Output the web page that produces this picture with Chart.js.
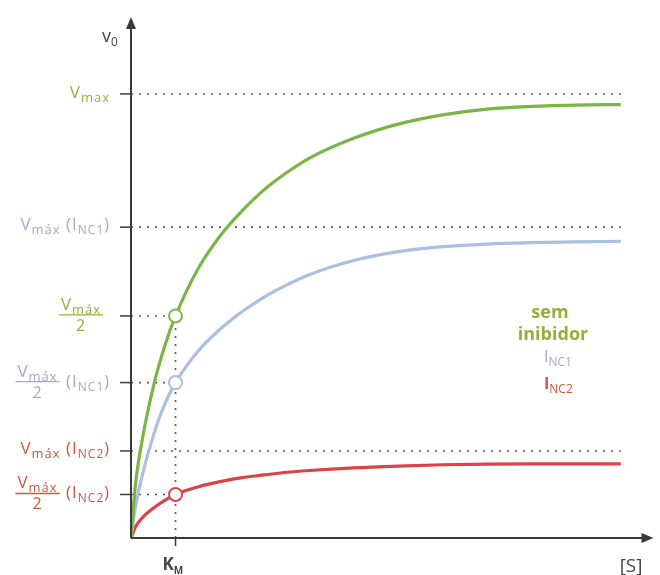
<!DOCTYPE html>
<html>
<head>
<meta charset="utf-8">
<script src="https://cdn.jsdelivr.net/npm/chart.js@4/dist/chart.umd.min.js"></script>
<style>
  html, body { margin: 0; padding: 0; background: #fff; }
  canvas { display: block; }
</style>
</head>
<body>
<canvas id="grafico" width="660" height="575"></canvas>
<script>
// [S] em unidades de K_M, v0 em unidades de Vmax
const km = 1;
const vmax = 1.0;
const vmaxNC1 = 0.70;
const vmaxNC2 = 0.196;

const concentracaoS = [0, 0.1, 0.25, 0.5, 0.75, 1, 1.5, 2, 2.5, 3, 3.5, 4, 5, 6, 7, 8, 9, 10, 11];
const semInibidorV = [0, 0.12, 0.22, 0.34, 0.43, 0.50, 0.605, 0.68, 0.737, 0.785, 0.823, 0.855, 0.90, 0.932, 0.953, 0.966, 0.972, 0.975, 0.976];
const nc1V = [0, 0.07, 0.14, 0.23, 0.30, 0.35, 0.42, 0.47, 0.51, 0.543, 0.57, 0.593, 0.625, 0.645, 0.656, 0.662, 0.665, 0.667, 0.668];
const nc2V = [0, 0.025, 0.045, 0.067, 0.084, 0.098, 0.115, 0.127, 0.136, 0.142, 0.148, 0.152, 0.158, 0.162, 0.165, 0.1665, 0.167, 0.167, 0.167];

const sMax = 11.69;
const vTopo = 1.171;

const verde = "#7bb547", verdeTexto = "#9aac3a";
const azul = "#a9bfe3", azulTexto = "#a3a9cc";
const vermelho = "#da4448", vermelhoTexto = "#c65a3f";
const pontilhado = "#5a5a5a";

const fonte = "'Open Sans', Lato, sans-serif";

function pontos(xs, ys) {
  return xs.map((x, i) => ({ x, y: ys[i] }));
}

const sFim = concentracaoS[concentracaoS.length - 1];

function linhaGuia(data) {
  return {
    data,
    borderColor: pontilhado,
    borderWidth: 1.6,
    borderDash: [2, 6],
    pointRadius: 0,
    tension: 0,
  };
}

function curva(data, cor) {
  return {
    data,
    borderColor: cor,
    borderWidth: 3.2,
    pointRadius: 0,
    cubicInterpolationMode: "monotone",
  };
}

function larguraTexto(ctx, partes) {
  let largura = 0;
  partes.forEach((p) => {
    ctx.font = `${p.peso || "normal"} ${p.tam}px ${fonte}`;
    p.w = ctx.measureText(p.t).width;
    largura += p.w;
  });
  return largura;
}

// texto com subscritos, alinhado à direita, ao centro ou à esquerda
function textoComposto(ctx, partes, x, y, cor, alinhar) {
  const largura = larguraTexto(ctx, partes);
  let cx = alinhar === "direita" ? x - largura : alinhar === "centro" ? x - largura / 2 : x;
  ctx.fillStyle = cor;
  ctx.textAlign = "left";
  ctx.textBaseline = "alphabetic";
  partes.forEach((p) => {
    ctx.font = `${p.peso || "normal"} ${p.tam}px ${fonte}`;
    ctx.fillText(p.t, cx, y + (p.sub ? 4 : 0));
    cx += p.w;
  });
  return largura;
}

const vMax = (acento) => [{ t: "V", tam: 17 }, { t: acento ? "máx" : "max", tam: 13, sub: true }];
const inib = (n) => [{ t: " (I", tam: 17 }, { t: "NC" + n, tam: 12, sub: true }, { t: ")", tam: 16 }];

function fracao(ctx, cx, y, cor) {
  // numerador Vmáx, traço e denominador 2
  const w = textoComposto(ctx, vMax(true), cx, y - 6, cor, "centro");
  ctx.strokeStyle = cor;
  ctx.lineWidth = 1.3;
  ctx.beginPath();
  ctx.moveTo(cx - w / 2 - 2, y - 1);
  ctx.lineTo(cx + w / 2 + 2, y - 1);
  ctx.stroke();
  textoComposto(ctx, [{ t: "2", tam: 16 }], cx, y + 15, cor, "centro");
  return w;
}

// fração Vmáx/2 seguida de (I_NCn), encostada à direita
function fracaoInibidor(ctx, direita, y, n, cor) {
  const w = textoComposto(ctx, inib(n), direita, y + 4, cor, "direita");
  const wNum = larguraTexto(ctx, vMax(true));
  fracao(ctx, direita - w - 3 - wNum / 2, y, cor);
}

const eixos = {
  id: "eixos",
  afterDraw(chart) {
    const { ctx } = chart;
    const xs = chart.scales.x, ys = chart.scales.y;
    const x0 = xs.getPixelForValue(0), y0 = ys.getPixelForValue(0);
    ctx.save();
    ctx.strokeStyle = "#3a3a3a";
    ctx.fillStyle = "#3a3a3a";
    ctx.lineWidth = 2;

    // eixo v0 com seta
    ctx.beginPath();
    ctx.moveTo(x0, y0);
    ctx.lineTo(x0, ys.top + 8);
    ctx.stroke();
    ctx.beginPath();
    ctx.moveTo(x0, ys.top - 1);
    ctx.lineTo(x0 - 5, ys.top + 11);
    ctx.lineTo(x0 + 5, ys.top + 11);
    ctx.closePath();
    ctx.fill();

    // eixo [S] com seta
    ctx.beginPath();
    ctx.moveTo(x0, y0);
    ctx.lineTo(xs.right - 6, y0);
    ctx.stroke();
    ctx.beginPath();
    ctx.moveTo(xs.right + 2, y0);
    ctx.lineTo(xs.right - 10, y0 - 5);
    ctx.lineTo(xs.right - 10, y0 + 5);
    ctx.closePath();
    ctx.fill();

    // marcas nos eixos
    ctx.lineWidth = 1.5;
    const marcasV = [vmax, vmaxNC1, vmax / 2, vmaxNC1 / 2, vmaxNC2, vmaxNC2 / 2];
    marcasV.forEach((v) => {
      const py = ys.getPixelForValue(v);
      ctx.beginPath();
      ctx.moveTo(x0 - 11, py);
      ctx.lineTo(x0, py);
      ctx.stroke();
    });
    const pk = xs.getPixelForValue(km);
    ctx.beginPath();
    ctx.moveTo(pk, y0);
    ctx.lineTo(pk, y0 + 8);
    ctx.stroke();

    // títulos dos eixos
    textoComposto(ctx, [{ t: "v", tam: 18 }, { t: "0", tam: 12, sub: true }], x0 - 29, ys.top + 24, "#444", "esquerda");
    textoComposto(ctx, [{ t: "[S]", tam: 19 }], xs.right - 9, y0 + 34, "#444", "direita");
    textoComposto(ctx, [{ t: "K", tam: 17, peso: "bold" }, { t: "M", tam: 10, sub: true, peso: "bold" }], pk - 13, y0 + 32, "#444", "esquerda");

    // rótulos do eixo v0, um pouco espaçados
    ctx.letterSpacing = "1px";
    const direita = x0 - 21;
    let py = ys.getPixelForValue(vmax);
    textoComposto(ctx, vMax(false), direita, py + 4, verdeTexto, "direita");

    py = ys.getPixelForValue(vmaxNC1);
    textoComposto(ctx, vMax(true).concat(inib(1)), direita, py + 3, azulTexto, "direita");

    py = ys.getPixelForValue(vmax / 2);
    fracao(ctx, direita - 29, py, verdeTexto);

    fracaoInibidor(ctx, direita, ys.getPixelForValue(vmaxNC1 / 2), 1, azulTexto);

    py = ys.getPixelForValue(vmaxNC2);
    textoComposto(ctx, vMax(true).concat(inib(2)), direita, py + 3, vermelhoTexto, "direita");

    fracaoInibidor(ctx, direita, ys.getPixelForValue(vmaxNC2 / 2), 2, vermelhoTexto);
    ctx.letterSpacing = "0px";

    // legenda
    textoComposto(ctx, [{ t: "sem", tam: 18, peso: "bold" }], 550, 318, verdeTexto, "centro");
    textoComposto(ctx, [{ t: "inibidor", tam: 18, peso: "bold" }], 553, 340, verdeTexto, "centro");
    textoComposto(ctx, [{ t: "I", tam: 16 }, { t: "NC1", tam: 12, sub: true }], 544, 362, azulTexto, "esquerda");
    textoComposto(ctx, [{ t: "I", tam: 16, peso: "bold" }, { t: "NC2", tam: 12, sub: true }], 544, 389, vermelhoTexto, "esquerda");

    ctx.restore();
  },
};

const ctx = document.getElementById("grafico").getContext("2d");
new Chart(ctx, {
  type: "line",
  data: {
    datasets: [
      {
        data: [
          { x: km, y: vmax / 2 },
          { x: km, y: vmaxNC1 / 2 },
          { x: km, y: vmaxNC2 / 2 },
        ],
        showLine: false,
        pointRadius: 6.5,
        pointBorderWidth: 2,
        pointBackgroundColor: "#fff",
        pointBorderColor: [verde, azul, vermelho],
      },
      curva(pontos(concentracaoS, semInibidorV), verde),
      curva(pontos(concentracaoS, nc1V), azul),
      curva(pontos(concentracaoS, nc2V), vermelho),
      linhaGuia([{ x: 0, y: vmax }, { x: sFim, y: vmax }]),
      linhaGuia([{ x: 0, y: vmaxNC1 }, { x: sFim, y: vmaxNC1 }]),
      linhaGuia([{ x: 0, y: vmaxNC2 }, { x: sFim, y: vmaxNC2 }]),
      linhaGuia([{ x: 0, y: vmax / 2 }, { x: km, y: vmax / 2 }]),
      linhaGuia([{ x: 0, y: vmaxNC1 / 2 }, { x: km, y: vmaxNC1 / 2 }]),
      linhaGuia([{ x: 0, y: vmaxNC2 / 2 }, { x: km, y: vmaxNC2 / 2 }]),
      linhaGuia([{ x: km, y: 0 }, { x: km, y: vmax / 2 }]),
    ],
  },
  options: {
    responsive: false,
    animation: false,
    layout: { padding: { left: 131, top: 18, right: 3, bottom: 37 } },
    plugins: {
      legend: { display: false },
      tooltip: { enabled: false },
    },
    scales: {
      x: { type: "linear", min: 0, max: sMax, display: false },
      y: { type: "linear", min: 0, max: vTopo, display: false },
    },
  },
  plugins: [eixos],
});
</script>
</body>
</html>
